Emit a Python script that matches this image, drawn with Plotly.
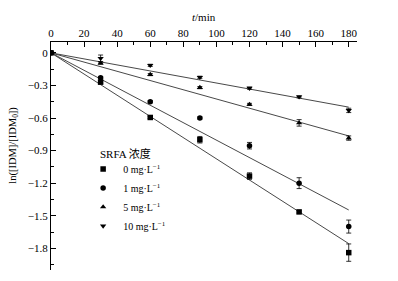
import plotly.graph_objects as go

t = [0, 30, 60, 90, 120, 150, 180]
c0 = [0, -0.27, -0.595, -0.80, -1.135, -1.465, -1.84]
c1 = [0, -0.23, -0.45, -0.60, -0.855, -1.20, -1.60]
c5 = [0, -0.095, -0.20, -0.32, -0.475, -0.645, -0.785]
c10 = [0, -0.05, -0.115, -0.225, -0.325, -0.405, -0.53]
e0 = [0, 0.01, 0.01, 0.03, 0.03, 0.01, 0.08]
e1 = [0, 0.01, 0.01, 0.01, 0.03, 0.05, 0.06]
e5 = [0, 0.01, 0.01, 0.01, 0.01, 0.03, 0.02]
e10 = [0, 0.03, 0.01, 0.01, 0.01, 0.01, 0.02]

fit_t = [0, 180]
fit0 = [0, -1.757]
fit1 = [0, -1.447]
fit5 = [0, -0.765]
fit10 = [0, -0.50]

legend_title = "SRFA 浓度"
names = ["0 mg·L<sup>−1</sup>", "1 mg·L<sup>−1</sup>", "5 mg·L<sup>−1</sup>", "10 mg·L<sup>−1</sup>"]
symbols = ["square", "circle", "triangle-up", "triangle-down"]

FONT = "'Liberation Serif', 'Times New Roman', serif"
fig = go.Figure()

for fy in [fit0, fit1, fit5, fit10]:
    fig.add_trace(go.Scatter(x=fit_t, y=fy, mode="lines",
                             line=dict(color="#333", width=0.9),
                             showlegend=False, hoverinfo="skip"))

for ys, es, nm, sym in zip([c0, c1, c5, c10], [e0, e1, e5, e10], names, symbols):
    fig.add_trace(go.Scatter(x=t, y=ys, mode="markers", name=nm,
                             marker=dict(symbol=sym, size=5.5, color="black"),
                             error_y=dict(type="data", array=es, visible=True,
                                          color="black", thickness=0.8, width=2.5)))

fig.update_layout(
    width=398, height=281,
    margin=dict(l=43, r=49, t=34, b=19, autoexpand=False),
    paper_bgcolor="white", plot_bgcolor="white",
    font=dict(family=FONT, size=11, color="black"),
    legend=dict(x=0.105, y=0.507, xanchor="left", yanchor="top",
                bgcolor="rgba(0,0,0,0)",
                font=dict(size=10), tracegroupgap=0, itemwidth=30),
    xaxis=dict(side="top", range=[0, 185], tick0=0, dtick=20, automargin=False,
               showline=True, linecolor="black", linewidth=1,
               ticks="inside", ticklen=5, tickcolor="black",
               minor=dict(dtick=10, ticks="inside", ticklen=3, tickcolor="black"),
               showgrid=False, zeroline=False, anchor="y"),
    yaxis=dict(range=[-2.0, 0.1], tick0=0, dtick=0.3, automargin=False,
               showline=True, linecolor="black", linewidth=1,
               ticks="inside", ticklen=5, tickcolor="black",
               minor=dict(dtick=0.15, tick0=0, ticks="inside", ticklen=3, tickcolor="black"),
               showgrid=False, zeroline=False),
    annotations=[
        dict(text="<i>t</i>/min", xref="paper", yref="paper", x=0.5, y=1, yshift=25,
             showarrow=False, xanchor="center", yanchor="middle", font=dict(size=11)),
        dict(text="ln([IDM]/[IDM<sub>0</sub>])", xref="paper", yref="paper",
             x=0, xshift=-37, y=0.545, textangle=-90, showarrow=False,
             xanchor="center", yanchor="middle", font=dict(size=10.5)),
        dict(text=legend_title, xref="paper", yref="paper", x=0.154, y=0.51,
             showarrow=False, xanchor="left", yanchor="middle",
             font=dict(size=11, family="'Liberation Serif', 'Noto Sans CJK SC', serif")),
    ],
)

fig.write_html("out.html")
